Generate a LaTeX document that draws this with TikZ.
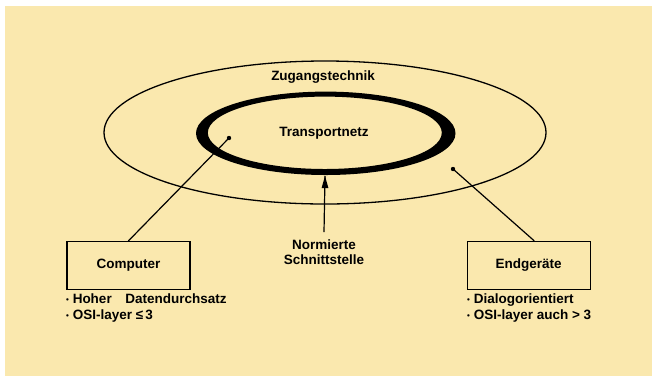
\documentclass[tikz,border=0pt]{standalone}
\usepackage{fontspec}
\setmainfont{Liberation Sans}
\definecolor{paper}{HTML}{FAE8AE}
\newcommand{\punkt}{\raisebox{1.2pt}{\footnotesize\textbullet}\ }
\begin{document}
\begin{tikzpicture}[x=1pt,y=1pt]
      \tikzstyle{every node}+=[inner sep=0pt, font=\bfseries\fontsize{13.5}{15.5}\selectfont]
      \tikzstyle{box}=[draw, line width=1.2, minimum width=123, minimum height=48]
      \useasboundingbox (0,0) rectangle (652,-376);
      \fill [white] (0,0) rectangle (652,-376);
      \fill [paper] (5,-6) rectangle (652,-376);
      % Zugangstechnik
      \draw [black, line width=1.3] (325,-132.5) ellipse [x radius=221, y radius=71.5];
      \draw (323,-77) node (zugang) {Zugangstechnik};
      % Transportnetz
      \fill [black, even odd rule] (325.75,-133.3) ellipse [x radius=129.75, y radius=41.7]
            (324.8,-132.8) ellipse [x radius=117, y radius=36.2];
      \draw (324,-133) node (transport) {Transportnetz};
      \coordinate (cdot) at (229,-138);
      \coordinate (edot) at (453,-169);
      \coordinate (schnitt) at (325,-176);
      \fill [black] (cdot) circle (2.2);
      \fill [black] (edot) circle (2.2);
      % Endsysteme
      \draw (128.4,-265.5) node [box] (computer) {Computer};
      \draw (528.7,-265.5) node [box] (endgeraete) {Endger\"ate};
      \draw [black, line width=1.2] (computer.north) -- (cdot);
      \draw [black, line width=1.2] ([xshift=5.6]endgeraete.north) -- (edot);
      % Schnittstelle
      \draw (324,-252) node [align=center] (norm) {Normierte\\Schnittstelle};
      \draw [black, line width=1.2] ([yshift=7]norm.north) -- (schnitt);
      \fill [black] (schnitt) -- ++(-3.4,-12) -- ++(6.8,0) -- cycle;
      % Merkmale
      \draw (66,-294) node [anchor=north west, align=left] (cinfo)
            {\punkt Hoher\quad Datendurchsatz\\\punkt OSI-layer ≤\,3};
      \draw (467,-294) node [anchor=north west, align=left] (einfo)
            {\punkt Dialogorientiert\\\punkt OSI-layer auch > 3};
\end{tikzpicture}
\end{document}
